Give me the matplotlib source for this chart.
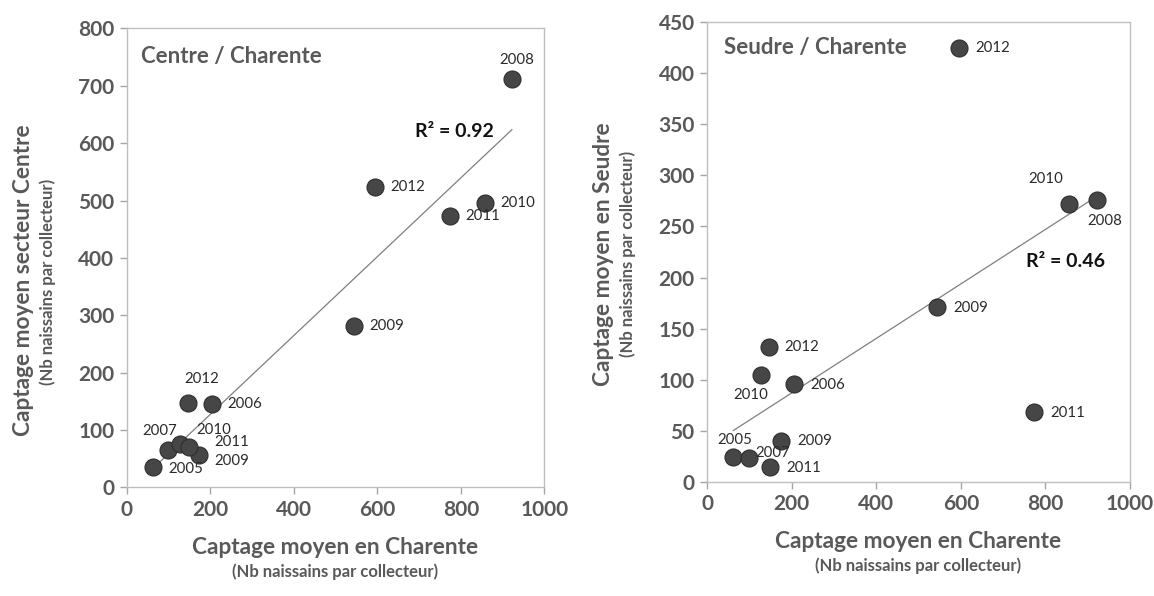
import numpy as np
import matplotlib
matplotlib.use("Agg")
import matplotlib.pyplot as plt

plt.rcParams['font.family'] = ['Lato', 'DejaVu Sans']

# ---- data ----
years = ["2005", "2006", "2007", "2008", "2009", "2009", "2010", "2010", "2011", "2011", "2012", "2012"]
charente = [62, 205, 100, 922, 544, 174, 857, 128, 774, 149, 595, 147]
centre = [35, 145, 65, 712, 281, 57, 495, 75, 473, 70, 523, 148]
seudre = [24, 96, 23, 276, 171, 40, 272, 105, 68, 15, 425, 132]
r2_texts = ["R\u00b2 = 0.92", "R\u00b2 = 0.46"]
panel_titles = ["Centre / Charente", "Seudre / Charente"]
ylabels = ["Captage moyen secteur Centre", "Captage moyen en Seudre"]
xlabel = "Captage moyen en Charente"
sublabel = "(Nb naissains par collecteur)"

# label offsets (points) and alignment per point, per panel
offs_left = [(11, -1, 'left'), (11, 0, 'left'), (-6.5, 14, 'center'), (3.5, 14, 'center'),
             (11, 0, 'left'), (11, -4.8, 'left'), (11.5, 0, 'left'), (24, 10.7, 'center'),
             (11, 0, 'left'), (18, 3.5, 'left'), (10.7, 0, 'left'), (10, 17, 'center')]
offs_right = [(0.8, 12.4, 'center'), (11.6, -0.8, 'left'), (17, 3.7, 'center'), (5.8, -15.3, 'center'),
              (11.9, -0.5, 'left'), (12, 0, 'left'), (-17, 17.7, 'center'), (-7.4, -14.5, 'center'),
              (11.4, -0.5, 'left'), (12, -0.8, 'left'), (11.9, 0, 'left'), (11, 0, 'left')]

GRAY = '#595959'
fig = plt.figure(figsize=(11.54, 5.96), dpi=100)
ax1 = fig.add_axes([0.1098, 0.1822, 0.362, 0.7700])
ax2 = fig.add_axes([0.6128, 0.1913, 0.3663, 0.7718])

panels = [
    (ax1, centre, offs_left, (0, 800), np.arange(0, 801, 100), (690, 620), 0.94),
    (ax2, seudre, offs_right, (0, 450), np.arange(0, 451, 50), (755, 216), 0.944),
]

for i, (ax, yv, offs, ylim, yticks, r2pos, ty) in enumerate(panels):
    x = np.array(charente, float)
    y = np.array(yv, float)
    slope, icpt = np.polyfit(x, y, 1)
    xl = np.array([x.min(), x.max()])
    ax.plot(xl, slope * xl + icpt, color='#7f7f7f', lw=0.9, zorder=2)
    ax.scatter(x, y, s=150, color='#464646', edgecolors='#2e2e2e', linewidths=0.8, zorder=3)
    for xi, yi, yr, (dx, dy, ha) in zip(x, y, years, offs):
        ax.annotate(yr, (xi, yi), xytext=(dx, dy), textcoords='offset points',
                    ha=ha, va='center', fontsize=10.8, color='#2b2b2b', zorder=4)
    ax.text(r2pos[0], r2pos[1], r2_texts[i], fontsize=14, fontweight='bold',
            color='#111111', ha='left', va='center')
    ax.text(0.034 if i == 0 else 0.039, ty, panel_titles[i], transform=ax.transAxes,
            fontsize=16, fontweight='bold', color=GRAY, ha='left', va='center')
    ax.set_xlim(0, 1000)
    ax.set_ylim(*ylim)
    ax.set_xticks(np.arange(0, 1001, 200))
    ax.set_yticks(yticks)
    for s in ax.spines.values():
        s.set_color('#bfbfbf')
        s.set_linewidth(1.0)
    ax.tick_params(axis='both', direction='out', length=5, width=1, color='#a6a6a6',
                   labelcolor=GRAY, labelsize=15, pad=4)
    for lab in ax.get_xticklabels() + ax.get_yticklabels():
        lab.set_fontweight('bold')

# axis labels as figure text
W, H = 1154.0, 596.0
MAIN = 16.3
SUB = 12
# left panel
fig.text(335.5 / W, 1 - 547 / H, xlabel, ha='center', va='center', fontsize=MAIN,
         fontweight='bold', color=GRAY)
fig.text(335.5 / W, 1 - 572 / H, sublabel, ha='center', va='center', fontsize=SUB,
         fontweight='bold', color=GRAY)
fig.text(24 / W, 1 - 280 / H, ylabels[0], ha='center', va='center', rotation=90,
         fontsize=MAIN, fontweight='bold', color=GRAY)
fig.text(48 / W, 1 - 282 / H, sublabel, ha='center', va='center', rotation=90,
         fontsize=SUB, fontweight='bold', color=GRAY)
# right panel
fig.text(918.5 / W, 1 - 542 / H, xlabel, ha='center', va='center', fontsize=MAIN,
         fontweight='bold', color=GRAY)
fig.text(918.5 / W, 1 - 566 / H, sublabel, ha='center', va='center', fontsize=SUB,
         fontweight='bold', color=GRAY)
fig.text(604 / W, 1 - 254 / H, ylabels[1], ha='center', va='center', rotation=90,
         fontsize=MAIN, fontweight='bold', color=GRAY)
fig.text(628 / W, 1 - 254 / H, sublabel, ha='center', va='center', rotation=90,
         fontsize=SUB, fontweight='bold', color=GRAY)

fig.savefig('out.png', dpi=100)
